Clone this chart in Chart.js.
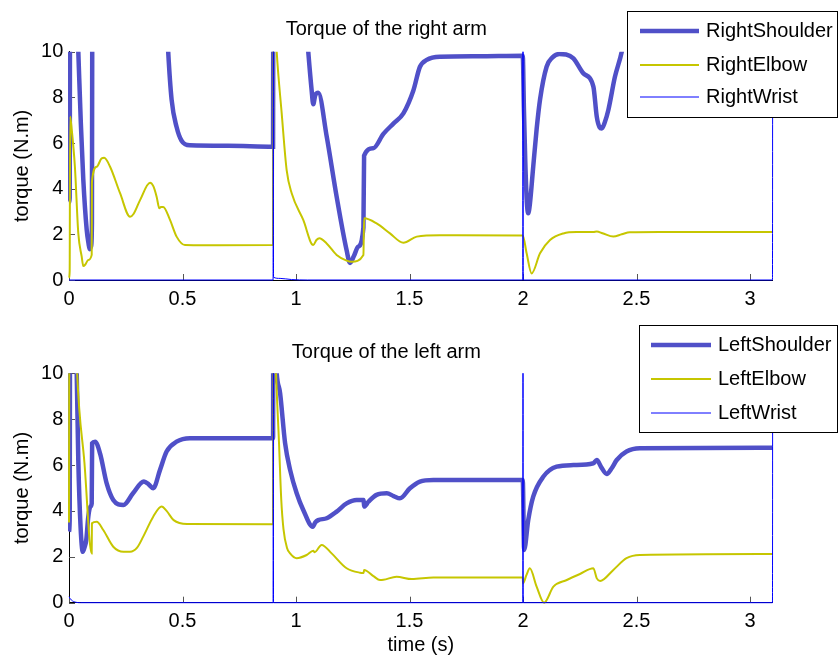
<!DOCTYPE html>
<html>
<head>
<meta charset="utf-8">
<title>Arm torques</title>
<script src="https://cdn.jsdelivr.net/npm/chart.js@4.4.1/dist/chart.umd.min.js"></script>
<style>
  body { margin: 0; background: #fff; }
  #wrap { position: relative; width: 838px; height: 657px; }
  canvas { position: absolute; left: 0; }
  #rightArm { top: 0; }
  #leftArm { top: 320px; }
</style>
</head>
<body>
<div id="wrap">
  <canvas id="rightArm" width="838" height="320"></canvas>
  <canvas id="leftArm" width="838" height="337"></canvas>
</div>
<script>
'use strict';
// ---------------------- Data (time in s, torque in N.m) ----------------------
const rightShoulderT = [0, 0.003, 0.005, 0.03, 0.041, 0.052, 0.063, 0.078, 0.086, 0.091, 0.098, 0.101, 0.103, 0.2, 0.43,
  0.437, 0.452, 0.474, 0.496, 0.533, 0.7, 0.899, 0.9, 1.0, 1.045, 1.054, 1.069, 1.076, 1.085, 1.098, 1.135, 1.179, 1.223,
  1.238, 1.255, 1.274, 1.297, 1.3, 1.34, 1.385, 1.43, 1.473, 1.517, 1.546, 1.576, 1.634, 1.8, 1.999, 2.004, 2.01, 2.017,
  2.023, 2.03, 2.045, 2.06, 2.075, 2.104, 2.13, 2.16, 2.19, 2.222, 2.266, 2.31, 2.325, 2.337, 2.347, 2.36, 2.376, 2.405,
  2.435, 2.47, 2.6, 3.1];
const rightShoulderTorque = [3.4, 3.6, 14, 13, 10, 6.9, 4.4, 2.2, 1.6, 1.35, 1.5, 2.5, 14, 20, 11.5,
  10, 7.9, 6.7, 6.1, 5.9, 5.88, 5.84, 14, 16, 11.2, 10, 8.3, 7.7, 8.1, 8.2, 6.3, 3.65, 1.3,
  0.75, 1.05, 1.46, 2.3, 5.45, 5.77, 6.4, 6.86, 7.3, 8.3, 9.34, 9.64, 9.78, 9.8, 9.82, 7.5, 5.2, 3.4,
  2.92, 3.3, 4.96, 6.6, 7.9, 9.34, 9.75, 9.9, 9.88, 9.71, 9.05, 8.47, 7.15, 6.7, 6.64, 6.9, 7.45, 8.9,
  10, 12, 15, 15];

const rightElbowT = [0, 0.003, 0.005, 0.012, 0.026, 0.041, 0.056, 0.063, 0.072, 0.085, 0.1, 0.101, 0.122, 0.144, 0.155,
  0.181, 0.225, 0.269, 0.285, 0.313, 0.357, 0.372, 0.386, 0.398, 0.405, 0.415, 0.445, 0.474, 0.511, 0.6, 0.899, 0.9, 0.91,
  0.915, 0.937, 0.959, 0.981, 1.032, 1.076, 1.09, 1.103, 1.135, 1.179, 1.223, 1.245, 1.297, 1.3, 1.355, 1.414, 1.473,
  1.532, 1.634, 1.999, 2.016, 2.038, 2.075, 2.119, 2.178, 2.236, 2.31, 2.325, 2.35, 2.398, 2.435, 2.471, 2.6, 3.1];
const rightElbowTorque = [0.1, 0.4, 7.15, 6.6, 4.96, 2.04, 1.02, 0.61, 0.68, 0.88, 1.1, 4.3, 4.96, 5.33, 5.35,
  4.96, 3.8, 2.77, 2.9, 3.5, 4.26, 4.1, 3.65, 3.14, 3.2, 3.2, 2.63, 1.9, 1.53, 1.52, 1.53, 14, 11,
  10, 7.3, 4.8, 3.8, 2.63, 1.53, 1.75, 1.83, 1.6, 1.1, 0.85, 0.8, 1.1, 2.7, 2.48, 2.04, 1.63,
  1.9, 1.96, 1.95, 1.17, 0.29, 1.17, 1.75, 2.04, 2.1, 2.1, 2.12, 2.05, 1.9, 2.0, 2.09, 2.1, 2.1];

const rightWristT = [0, 0.899, 0.9, 0.901, 0.93, 0.98, 1.05, 1.999, 2.0, 2.001, 3.099, 3.1];
const rightWristTorque = [0, 0, 15, 0.12, 0.07, 0.02, 0, 0, 15, 0, 0, 15];

const leftShoulderT = [0, 0.003, 0.005, 0.03, 0.034, 0.041, 0.051, 0.061, 0.068, 0.076, 0.085, 0.095, 0.1, 0.102, 0.115,
  0.137, 0.166, 0.195, 0.24, 0.282, 0.33, 0.352, 0.371, 0.401, 0.43, 0.474, 0.533, 0.899, 0.9, 0.905, 0.915, 0.93, 0.952,
  0.974, 1.003, 1.032, 1.074, 1.085, 1.098, 1.135, 1.179, 1.223, 1.267, 1.298, 1.3, 1.319, 1.355, 1.4, 1.43, 1.458, 1.502,
  1.546, 1.605, 1.999, 2.005, 2.023, 2.045, 2.09, 2.148, 2.222, 2.31, 2.325, 2.345, 2.369, 2.39, 2.413, 2.456, 2.515, 3.1];
const leftShoulderTorque = [3.1, 3.6, 14, 13, 10, 6.2, 3.3, 2.22, 2.4, 2.73, 3.75, 4.2, 4.33, 6.95, 7.02,
  6.5, 5.2, 4.48, 4.26, 4.77, 5.28, 5.15, 4.99, 5.79, 6.59, 7.02, 7.17, 7.17, 14, 12, 10, 9.13, 6.95,
  5.79, 4.77, 4.04, 3.31, 3.5, 3.6, 3.68, 3.97, 4.33, 4.48, 4.48, 4.19, 4.4, 4.7, 4.77, 4.65, 4.55, 4.99,
  5.28, 5.35, 5.35, 2.3, 3.6, 4.62, 5.5, 5.93, 6.0, 6.08, 6.22, 5.9, 5.61, 5.85, 6.22, 6.59, 6.73, 6.75];

const leftElbowT = [0, 0.002, 0.03, 0.036, 0.068, 0.1, 0.101, 0.122, 0.151, 0.195, 0.24, 0.269, 0.3, 0.327, 0.371,
  0.408, 0.43, 0.461, 0.52, 0.899, 0.9, 0.906, 0.912, 0.925, 0.935, 0.945, 0.96, 0.974, 1.003, 1.047, 1.076, 1.082,
  1.113, 1.157, 1.223, 1.282, 1.298, 1.3, 1.341, 1.37, 1.385, 1.443, 1.51, 1.605, 1.999, 2.0, 2.015, 2.03, 2.06, 2.093,
  2.134, 2.193, 2.251, 2.31, 2.325, 2.34, 2.398, 2.456, 2.515, 3.1];
const leftElbowTorque = [3.5, 14, 12, 10, 6.1, 2.15, 3.46, 3.53, 3.17, 2.44, 2.22, 2.22, 2.4, 2.88, 3.75,
  4.19, 4.0, 3.6, 3.43, 3.42, 14, 12, 10, 7.0, 4.5, 3.2, 2.4, 2.15, 1.94, 2.08, 2.27, 2.2,
  2.52, 2.15, 1.5, 1.31, 1.3, 1.43, 1.16, 0.99, 1.0, 1.13, 1.03, 1.1, 1.1, 0.85, 1.2, 1.5, 0.7, 0.0,
  0.7, 0.99, 1.25, 1.5, 1.06, 0.95, 1.43, 1.94, 2.08, 2.12];

const leftWristT = [0, 0.01, 0.03, 0.05, 0.899, 0.9, 0.901, 1.999, 2.0, 2.001, 3.099, 3.1];
const leftWristTorque = [0.26, 0.12, 0.02, 0, 0, 15, 0, 0, 15, 0, 0, 15];

const timeRange = [0, 3.1];
const torqueRange = [0, 10];

// ---------------------- Look ----------------------
const fontFamily = '"Liberation Sans", Arial, Helvetica, sans-serif';
Chart.defaults.font.family = fontFamily;
Chart.defaults.font.size = 20;
Chart.defaults.color = '#000';

const shoulderColor = 'rgb(80, 80, 200)';
const elbowColor = 'rgb(198, 198, 0)';
const wristColor = 'rgb(0, 0, 255)';

// ---------------------- Helpers ----------------------
function toPoints(times, values) {
  return times.map((t, i) => ({ x: t, y: values[i] }));
}

function makeDataset(label, times, values, color, width, order) {
  return {
    label: label,
    data: toPoints(times, values),
    borderColor: color,
    backgroundColor: color,
    borderWidth: width,
    pointRadius: 0,
    pointHoverRadius: 0,
    cubicInterpolationMode: 'monotone',
    clip: { left: 1, top: 0, right: 2, bottom: 2 },
    order: order
  };
}

// plain numbers on the ticks: 1 not 1.0
function plainTick(value) {
  return String(Math.round(value * 10) / 10);
}

// small tick marks drawn inside the axes
const innerTicks = {
  id: 'innerTicks',
  beforeDatasetsDraw(chart) {
    const { ctx, chartArea } = chart;
    const x = chart.scales.x;
    const y = chart.scales.y;
    ctx.save();
    ctx.strokeStyle = '#555';
    ctx.lineWidth = 1;
    ctx.beginPath();
    for (let t of x.ticks) {
      const px = Math.round(x.getPixelForValue(t.value)) + 0.5;
      ctx.moveTo(px, chartArea.bottom);
      ctx.lineTo(px, chartArea.bottom - 6);
    }
    for (let t of y.ticks) {
      const py = Math.round(y.getPixelForValue(t.value)) + 0.5;
      ctx.moveTo(chartArea.left, py);
      ctx.lineTo(chartArea.left + 6, py);
    }
    ctx.stroke();
    ctx.restore();
  }
};

// boxed legend that sits over the plot, top right
const boxLegend = {
  id: 'boxLegend',
  afterDraw(chart, args, opts) {
    const ctx = chart.ctx;
    ctx.save();
    ctx.fillStyle = '#fff';
    ctx.fillRect(opts.left, opts.top, opts.right - opts.left, opts.bottom - opts.top);
    ctx.strokeStyle = '#000';
    ctx.lineWidth = 1;
    ctx.strokeRect(opts.left + 0.5, opts.top + 0.5, opts.right - opts.left, opts.bottom - opts.top);
    chart.data.datasets.forEach((ds, i) => {
      const rowY = opts.rows[i];
      ctx.strokeStyle = ds.borderColor;
      ctx.lineWidth = ds.borderWidth;
      ctx.beginPath();
      ctx.moveTo(opts.lineStart, rowY);
      ctx.lineTo(opts.lineEnd, rowY);
      ctx.stroke();
      ctx.fillStyle = '#000';
      ctx.font = '20px ' + fontFamily;
      ctx.textBaseline = 'middle';
      ctx.textAlign = 'left';
      ctx.fillText(ds.label, opts.textX, rowY);
    });
    ctx.restore();
  }
};

function makeOptions(titleText, titlePad, withTimeTitle, legendBox) {
  return {
    responsive: false,
    animation: false,
    events: [],
    layout: { padding: { left: 0, right: 65.3, top: 0, bottom: 0 } },
    scales: {
      x: {
        type: 'linear',
        min: timeRange[0],
        max: timeRange[1],
        grid: { display: false, drawTicks: false },
        border: { display: true, color: '#000', width: 1 },
        ticks: { stepSize: 0.5, includeBounds: false, padding: 7, maxRotation: 0, autoSkip: false, callback: plainTick },
        title: { display: withTimeTitle, text: 'time (s)', padding: 0, font: { size: 20 } },
        afterFit: (scale) => { scale.height = withTimeTitle ? 54.3 : 40; }
      },
      y: {
        min: torqueRange[0],
        max: torqueRange[1],
        grid: { display: false, drawTicks: false },
        border: { display: true, color: '#000', width: 1 },
        ticks: { stepSize: 2, padding: 5.7, callback: plainTick },
        title: { display: true, text: 'torque (N.m)', padding: { top: 10, bottom: 10 }, font: { size: 20 } },
        afterFit: (scale) => { scale.width = 69; }
      }
    },
    plugins: {
      legend: { display: false },
      tooltip: { enabled: false },
      title: {
        display: true,
        text: titleText,
        font: { size: 20, weight: 'normal' },
        padding: titlePad
      },
      boxLegend: legendBox
    }
  };
}

// ---------------------- Charts ----------------------
new Chart(document.getElementById('rightArm'), {
  type: 'line',
  data: {
    datasets: [
      makeDataset('RightShoulder', rightShoulderT, rightShoulderTorque, shoulderColor, 4.5, 3),
      makeDataset('RightElbow', rightElbowT, rightElbowTorque, elbowColor, 2, 2),
      makeDataset('RightWrist', rightWristT, rightWristTorque, wristColor, 1, 1)
    ]
  },
  options: makeOptions('Torque of the right arm', { top: 17.5, bottom: 10.2 }, false,
    { left: 627, top: 11, right: 837, bottom: 117, lineStart: 640, lineEnd: 699, textX: 706, rows: [31, 65, 97] }),
  plugins: [innerTicks, boxLegend]
});

new Chart(document.getElementById('leftArm'), {
  type: 'line',
  data: {
    datasets: [
      makeDataset('LeftShoulder', leftShoulderT, leftShoulderTorque, shoulderColor, 4.5, 3),
      makeDataset('LeftElbow', leftElbowT, leftElbowTorque, elbowColor, 2, 2),
      makeDataset('LeftWrist', leftWristT, leftWristTorque, wristColor, 1, 1)
    ]
  },
  options: makeOptions('Torque of the left arm', { top: 20.3, bottom: 9 }, true,
    { left: 639, top: 5, right: 837, bottom: 112, lineStart: 651, lineEnd: 711, textX: 718, rows: [25, 59, 93] }),
  plugins: [innerTicks, boxLegend]
});
</script>
</body>
</html>
